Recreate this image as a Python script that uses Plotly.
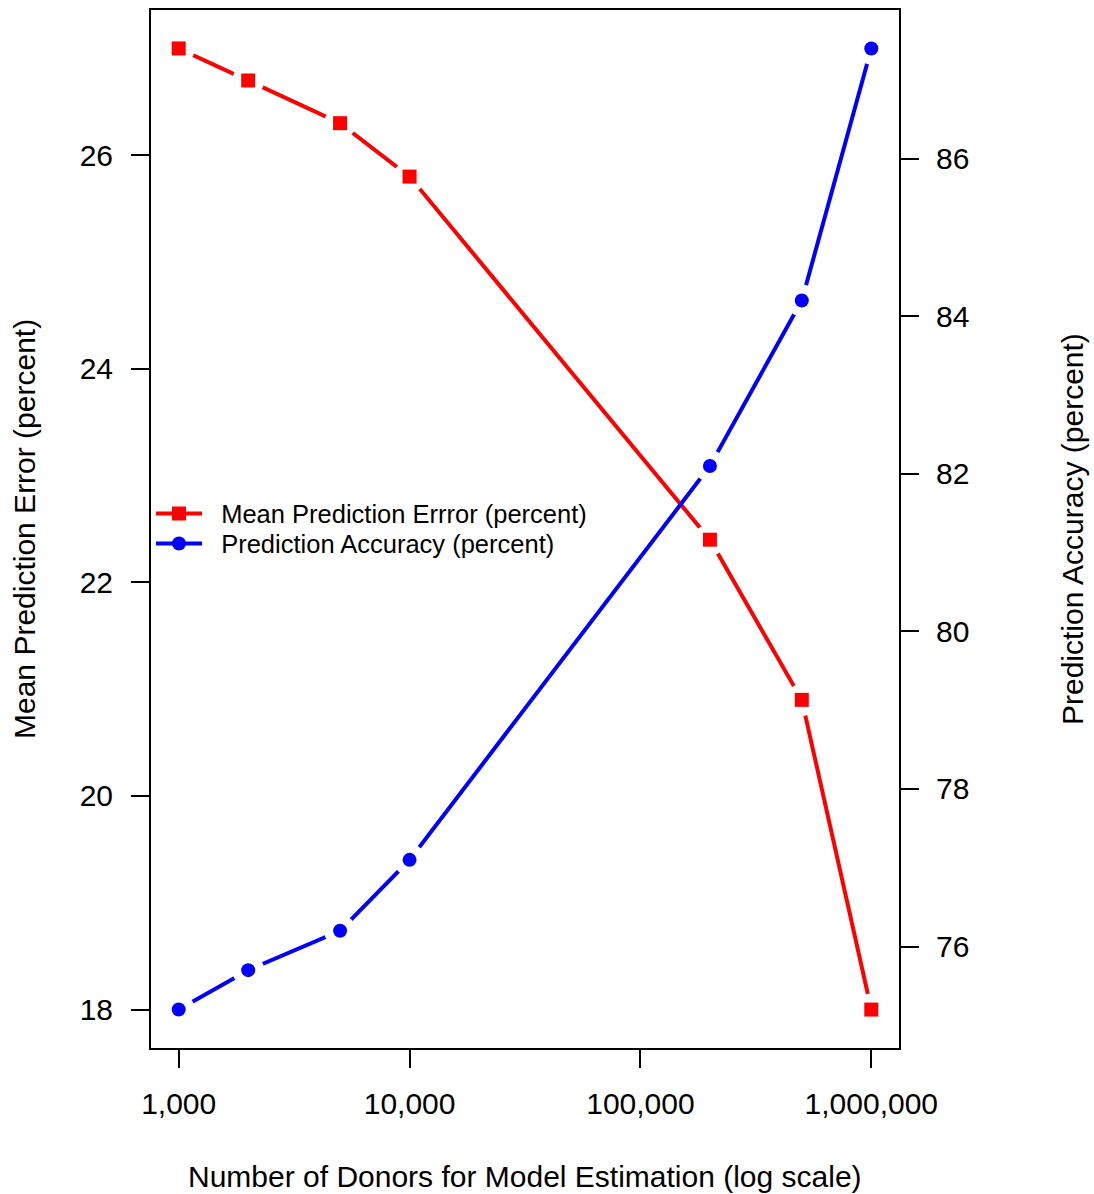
import plotly.graph_objects as go

# ---- data ----
donors = [1000, 2000, 5000, 10000, 200000, 500000, 1000000]
mean_error = [27.0, 26.7, 26.3, 25.8, 22.4, 20.9, 18.0]
accuracy = [75.2, 75.7, 76.2, 77.1, 82.1, 84.2, 87.4]

x_tickvals = [1000, 10000, 100000, 1000000]
x_ticktext = ["1,000", "10,000", "100,000", "1,000,000"]
left_ticks = [18, 20, 22, 24, 26]
right_ticks = [76, 78, 80, 82, 84, 86]

name_err = "Mean Prediction Errror (percent)"
name_acc = "Prediction Accuracy (percent)"
x_title = "Number of Donors for Model Estimation (log scale)"
y_title = "Mean Prediction Error (percent)"
y2_title = "Prediction Accuracy (percent)"

RED = "#FF0000"
BLUE = "#0000FF"
FONT = "Liberation Sans, Arial, Helvetica, sans-serif"
PAD = "\u00a0\u00a0"

fig = go.Figure()

def add_series(y, color, symbol, name, axis, legend):
    # line (with legend entry)
    fig.add_trace(go.Scatter(x=donors, y=y, mode="lines+markers", name=PAD + name,
                             line=dict(color=color, width=4),
                             marker=dict(color=color, symbol=symbol, size=14, line=dict(width=0)),
                             yaxis=axis, showlegend=True, legend=legend, hoverinfo="skip"))
    # white halo to create the "type='b'" gaps
    fig.add_trace(go.Scatter(x=donors, y=y, mode="markers",
                             marker=dict(color="white", symbol="circle", size=32, line=dict(width=0)),
                             yaxis=axis, showlegend=False, hoverinfo="skip"))
    # markers on top
    fig.add_trace(go.Scatter(x=donors, y=y, mode="markers",
                             marker=dict(color=color, symbol=symbol, size=14, line=dict(width=0)),
                             yaxis=axis, showlegend=False, hoverinfo="skip"))

add_series(mean_error, RED, "square", name_err, "y", "legend")
add_series(accuracy, BLUE, "circle", name_acc, "y2", "legend2")

axis_common = dict(showgrid=False, zeroline=False, ticks="outside", ticklen=18,
                   tickwidth=2, tickcolor="black", showline=True, linecolor="black",
                   linewidth=2, tickfont=dict(family=FONT, size=30, color="black"))

legend_common = dict(x=0.0, xanchor="left", yanchor="middle",
                     bgcolor="rgba(0,0,0,0)", borderwidth=0,
                     font=dict(family=FONT, size=25.5, color="black"), itemwidth=46)

fig.update_layout(
    width=1094, height=1194,
    margin=dict(l=151, r=195, t=8, b=146),
    paper_bgcolor="white", plot_bgcolor="white",
    font=dict(family=FONT, color="black"),
    xaxis=dict(type="log", range=[2.88, 6.12], tickvals=x_tickvals, ticktext=x_ticktext,
               mirror=True, ticklabelstandoff=10, **axis_common),
    yaxis=dict(range=[17.64, 27.36], tickvals=left_ticks, mirror=True,
               ticklabelstandoff=12, **axis_common),
    yaxis2=dict(range=[74.712, 87.888], tickvals=right_ticks, overlaying="y", side="right",
                ticklabelstandoff=11, **axis_common),
    legend=dict(y=0.5145, **legend_common),
    legend2=dict(y=0.4856, **legend_common),
    showlegend=True,
    annotations=[
        dict(text=x_title, xref="paper", yref="paper", x=0.5, y=0, yshift=-128,
             showarrow=False, xanchor="center", yanchor="middle",
             font=dict(family=FONT, size=30, color="black")),
        dict(text=y_title, xref="paper", yref="paper", x=0, y=0.5, xshift=-127,
             showarrow=False, xanchor="center", yanchor="middle", textangle=-90,
             font=dict(family=FONT, size=30, color="black")),
        dict(text=y2_title, xref="paper", yref="paper", x=1, y=0.5, xshift=173,
             showarrow=False, xanchor="center", yanchor="middle", textangle=-90,
             font=dict(family=FONT, size=30, color="black")),
    ],
)

fig.write_html("out.html", config={"displayModeBar": False},
               post_script="document.body.style.margin='0';document.body.style.padding='0';")
